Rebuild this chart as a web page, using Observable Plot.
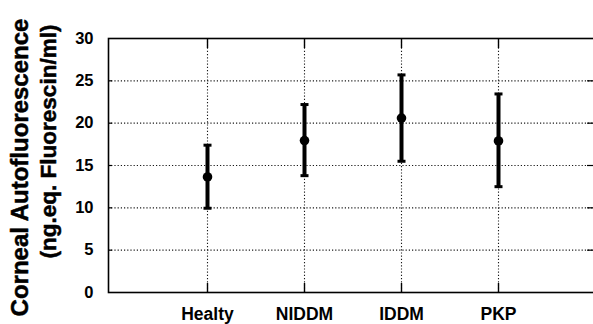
<!DOCTYPE html>
<html>
<head>
<meta charset="utf-8">
<script src="https://cdn.jsdelivr.net/npm/d3@7"></script>
<script src="https://cdn.jsdelivr.net/npm/@observablehq/plot@0.6"></script>
<style>
  html, body { margin: 0; padding: 0; background: #fff; overflow: hidden; }
  svg { font-family: "Liberation Sans", Arial, sans-serif; }
</style>
</head>
<body>
<div id="chart"></div>
<script>
const groups = ["Healty", "NIDDM", "IDDM", "PKP"];
const means = [13.65, 17.95, 20.6, 17.9];
const upper = [17.4, 22.2, 25.7, 23.45];
const lower = [9.95, 13.8, 15.5, 12.5];
const yTicks = [0, 5, 10, 15, 20, 25, 30];
const yLabel1 = "Corneal Autofluorescence";
const yLabel2 = "(ng.eq. Fluorescin/ml)";

const data = groups.map((g, i) => ({group: g, mean: means[i], hi: upper[i], lo: lower[i]}));
const inner = yTicks.filter(t => t > 0 && t < 30);

const dotted = {stroke: "#000", strokeOpacity: 0.9, strokeWidth: 1.1, strokeDasharray: "1.2,2"};
const heavy = {fill: "#000", stroke: "#000", strokeWidth: 0.5, fontWeight: "bold"};

// horizontal bar symbol for error-bar caps
const capSymbol = {
  draw(context, size) {
    const h = Math.sqrt(size / Math.PI);
    context.moveTo(-h, 0);
    context.lineTo(h, 0);
  }
};

const chart = Plot.plot({
  width: 593,
  height: 324,
  marginLeft: 108,
  marginRight: -3,
  marginTop: 38,
  marginBottom: 32,
  style: {fontFamily: "'Liberation Sans', Arial, sans-serif", color: "#000", background: "#fff"},
  x: {type: "point", domain: groups, padding: 1},
  y: {domain: [0, 30]},
  marks: [
    Plot.gridY(inner, dotted),
    Plot.gridX(groups, dotted),
    // inward ticks
    Plot.axisY(inner, {anchor: "left", tickSize: -4, text: null, label: null, strokeWidth: 1.2}),
    Plot.axisY(inner, {anchor: "right", tickSize: -10, text: null, label: null, strokeWidth: 1.2}),
    Plot.axisX(groups, {anchor: "bottom", tickSize: -9, text: null, label: null, strokeWidth: 1.4}),
    Plot.axisX(groups, {anchor: "top", tickSize: -9, text: null, label: null, strokeWidth: 1.4}),
    // tick labels
    Plot.axisY(yTicks, {anchor: "left", tickSize: 0, tickPadding: 15, label: null, fontSize: 16.5, ...heavy}),
    Plot.axisX(groups, {anchor: "bottom", tickSize: 0, tickPadding: 15, label: null, fontSize: 17.5, ...heavy}),
    Plot.frame({stroke: "#000", strokeWidth: 1.6}),
    // error bars
    Plot.ruleX(data, {x: "group", y1: "lo", y2: "hi", stroke: "#000", strokeWidth: 4}),
    Plot.dot(data, {x: "group", y: "hi", symbol: capSymbol, r: 4, stroke: "#000", strokeWidth: 3, fill: "none"}),
    Plot.dot(data, {x: "group", y: "lo", symbol: capSymbol, r: 4, stroke: "#000", strokeWidth: 3, fill: "none"}),
    Plot.dot(data, {x: "group", y: "mean", r: 4.8, fill: "#000", stroke: "none"}),
    // y axis title (two lines)
    Plot.text([yLabel1], {text: d => d, frameAnchor: "left", rotate: -90, lineAnchor: "bottom", textAnchor: "middle",
      dx: -81, dy: 2, fontSize: 24, ...heavy}),
    Plot.text([yLabel2], {text: d => d, frameAnchor: "left", rotate: -90, lineAnchor: "bottom", textAnchor: "middle",
      dx: -53, dy: -24, fontSize: 22.5, ...heavy})
  ]
});
document.getElementById("chart").appendChild(chart);
</script>
</body>
</html>
